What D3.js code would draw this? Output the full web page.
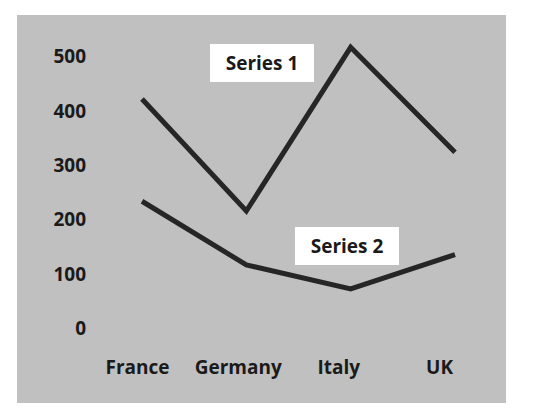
<!DOCTYPE html>
<html><head><meta charset="utf-8">
<script src="https://cdn.jsdelivr.net/npm/d3@7"></script>
<style>body{margin:0;background:#fff;}svg{display:block;}</style>
</head><body>
<script>
const categories = ["France","Germany","Italy","UK"];
const series1 = [421, 215, 516, 323];
const series2 = [233, 116, 72, 135];
const yTicks = [0,100,200,300,400,500];
const seriesNames = ["Series 1","Series 2"];

const W = 546, H = 418;
const svg = d3.select("body").append("svg").attr("width", W).attr("height", H);
svg.append("rect").attr("x",17).attr("y",15).attr("width",489).attr("height",388).attr("fill","#c0c0c0");

const font = "'Open Sans', sans-serif";
const y = d3.scaleLinear().domain([0,500]).range([328,56]);
const xLine = d3.scalePoint().domain(categories).range([142,455]);
const xLabel = d3.scalePoint().domain(categories).range([137,439]);

const yAxis = svg.append("g").attr("transform","translate(86,0)")
  .call(d3.axisLeft(y).tickValues(yTicks).tickSize(0).tickPadding(0).tickFormat(d3.format("d")));
yAxis.select(".domain").remove();
yAxis.selectAll("text").attr("font-family",font).attr("font-weight",700).attr("font-size",19).attr("fill","#1a1a1a").attr("dy","0.35em");

const xAxis = svg.append("g").attr("transform","translate(0,367)")
  .call(d3.axisBottom(xLabel).tickSize(0).tickPadding(0));
xAxis.select(".domain").remove();
xAxis.selectAll("text").attr("font-family",font).attr("font-weight",700).attr("font-size",19).attr("fill","#1a1a1a").attr("dy","0.35em");

const line = d3.line().x((d,i)=>xLine(categories[i])).y(d=>y(d));
[series1, series2].forEach(s=>{
  svg.append("path").datum(s).attr("d",line).attr("fill","none")
    .attr("stroke","#262626").attr("stroke-width",5).attr("stroke-linejoin","miter").attr("stroke-linecap","butt");
});

const boxes = [{x:210,y:44,w:104,h:38},{x:295,y:227,w:104,h:38}];
seriesNames.forEach((n,i)=>{
  const b = boxes[i];
  svg.append("rect").attr("x",b.x).attr("y",b.y).attr("width",b.w).attr("height",b.h).attr("fill","#fff");
  svg.append("text").attr("x",b.x+b.w/2).attr("y",b.y+b.h/2).attr("dy","0.35em").attr("text-anchor","middle")
    .attr("font-family",font).attr("font-weight",700).attr("font-size",19).attr("fill","#1a1a1a").text(n);
});
</script>
</body></html>
